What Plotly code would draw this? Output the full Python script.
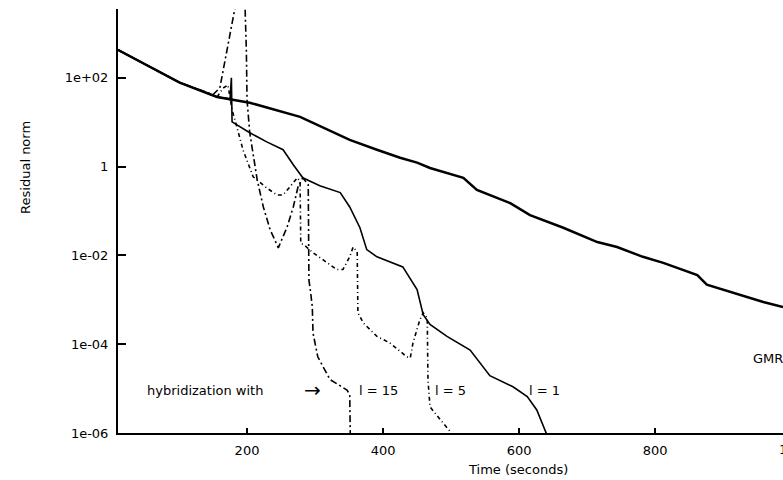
import plotly.graph_objects as go

# ---- data (time in seconds, residual norm) ----
gmres_t = [10, 57, 101, 156, 204, 278, 351, 391, 425, 450, 469, 518, 538, 587, 616,
           665, 715, 744, 782, 812, 862, 876, 910, 959, 988]
gmres_r = [427, 178, 78, 37, 27.5, 13.2, 4.0, 2.4, 1.58, 1.23, 0.93, 0.56, 0.30, 0.15,
           0.081, 0.042, 0.020, 0.0155, 0.0093, 0.0068, 0.0036, 0.0022, 0.0015, 8.9e-4, 6.9e-4]

l1_t = [10, 57, 101, 156, 172, 175, 177, 178, 204, 229, 253, 268, 282, 307, 337, 351,
        366, 376, 391, 429, 450, 459, 469, 494, 528, 557, 591, 612, 626, 641]
l1_r = [427, 178, 78, 37, 34, 32, 100, 10.2, 5.8, 3.6, 2.4, 1.1, 0.56, 0.37, 0.26, 0.123,
        0.042, 0.0135, 0.0093, 0.0055, 0.0017, 4.6e-4, 2.8e-4, 1.5e-4, 7.4e-5, 1.95e-5,
        1.1e-5, 6.6e-6, 3.3e-6, 9e-7]

l5_t = [10, 57, 101, 156, 165, 172, 178, 185, 194, 209, 229, 244, 253, 263, 274, 278,
        279, 285, 297, 312, 332, 341, 351, 356, 362, 363, 371, 391, 410, 435, 440, 444,
        454, 459, 465, 466, 469, 484, 499, 501]
l5_r = [427, 178, 78, 37, 59, 69, 19, 7.9, 2.4, 0.59, 0.33, 0.23, 0.23, 0.35, 0.56, 0.46,
        0.019, 0.0166, 0.0115, 0.0079, 0.0048, 0.0048, 0.0093, 0.0155, 0.012, 5.1e-4,
        3.0e-4, 1.5e-4, 1.07e-4, 5.2e-5, 4.9e-5, 1.07e-4, 3.5e-4, 5.1e-4, 3.9e-4, 1.6e-5,
        3.9e-6, 2.0e-6, 1.07e-6, 7e-7]

l15_t = [10, 57, 101, 150, 160, 172, 182, 190, 197, 199, 200, 204, 215, 224, 234, 246,
         259, 268, 275, 282, 290, 291, 293, 296, 297, 304, 322, 347, 351, 352]
l15_r = [427, 178, 78, 42, 59, 550, 3550, 16000, 4400, 427, 32, 5.8, 0.50, 0.123, 0.038,
         0.0148, 0.044, 0.123, 0.35, 0.56, 0.39, 0.0028, 0.0017, 6.9e-4, 1.8e-4, 5.2e-5,
         1.6e-5, 9.3e-6, 7.2e-6, 5.4e-7]

y_tickvals = [1e-6, 1e-4, 1e-2, 1, 1e2]
y_ticktext = ["1e-06", "1e-04", "1e-02", "1", "1e+02"]
x_tickvals = [200, 400, 600, 800]
x_ticktext = ["200", "400", "600", "800"]

FONT = "DejaVu Sans"

fig = go.Figure()
fig.add_trace(go.Scatter(x=gmres_t, y=gmres_r, mode="lines", name="GMRES",
                         line=dict(color="black", width=2.5)))
fig.add_trace(go.Scatter(x=l1_t, y=l1_r, mode="lines", name="l = 1",
                         line=dict(color="black", width=1.6)))
fig.add_trace(go.Scatter(x=l5_t, y=l5_r, mode="lines", name="l = 5",
                         line=dict(color="black", width=1.6, dash="4px,3px,1px,3px")))
fig.add_trace(go.Scatter(x=l15_t, y=l15_r, mode="lines", name="l = 15",
                         line=dict(color="black", width=1.6, dash="7px,3px,2px,3px")))

fig.update_layout(
    width=783, height=480,
    margin=dict(l=118, r=0, t=9, b=47),
    paper_bgcolor="white", plot_bgcolor="white",
    showlegend=False,
    font=dict(family=FONT, size=13, color="black"),
)
fig.update_xaxes(
    range=[10.3, 988], showgrid=False, zeroline=False,
    showline=True, linecolor="black", linewidth=2,
    ticks="inside", ticklen=5, tickwidth=1.5, tickcolor="black",
    tickvals=x_tickvals, ticktext=x_ticktext,
    tickfont=dict(family=FONT, size=13), ticklabelstandoff=4,
)
fig.update_yaxes(
    type="log", range=[-6, 3.55], showgrid=False, zeroline=False,
    showline=True, linecolor="black", linewidth=2,
    ticks="inside", ticklen=8, tickwidth=1.5, tickcolor="black",
    tickvals=y_tickvals, ticktext=y_ticktext,
    tickfont=dict(family=FONT, size=13), ticklabelstandoff=5,
)

ann = dict(xref="paper", yref="paper", showarrow=False,
           font=dict(family=FONT, size=13, color="black"))
fig.add_annotation(x=(795 - 118) / 665, y=(433 - 449) / 424, text="1000", xanchor="center",
                   yanchor="middle", **ann)
fig.add_annotation(x=-0.14, y=(433 - 167) / 424, text="Residual norm", textangle=-90,
                   xanchor="center", yanchor="middle", **ann)
fig.add_annotation(x=(518 - 118) / 665, y=(433 - 469) / 424, text="Time (seconds)",
                   xanchor="center", yanchor="middle", **ann)
fig.add_annotation(x=(145 - 118) / 665, y=(433 - 390) / 424, text="hybridization with",
                   xanchor="left", yanchor="middle", **ann)
fig.add_annotation(x=(312 - 118) / 665, y=(433 - 390) / 424, text="→",
                   xanchor="center", yanchor="middle", xref="paper", yref="paper",
                   showarrow=False, font=dict(family=FONT, size=20, color="black"))
fig.add_annotation(x=(357 - 118) / 665, y=(433 - 390) / 424, text="l = 15",
                   xanchor="left", yanchor="middle", **ann)
fig.add_annotation(x=(433 - 118) / 665, y=(433 - 390) / 424, text="l = 5",
                   xanchor="left", yanchor="middle", **ann)
fig.add_annotation(x=(527 - 118) / 665, y=(433 - 390) / 424, text="l = 1",
                   xanchor="left", yanchor="middle", **ann)
fig.add_annotation(x=(751 - 118) / 665, y=(433 - 358) / 424, text="GMRES",
                   xanchor="left", yanchor="middle", **ann)

fig.write_html("out.html")
